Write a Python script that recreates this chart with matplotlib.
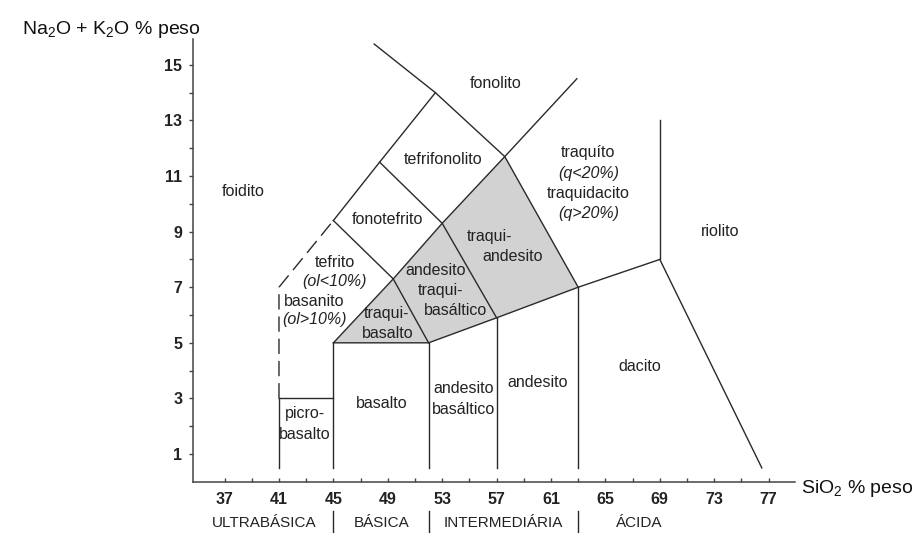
import matplotlib
matplotlib.use('Agg')
import matplotlib.pyplot as plt

plt.rcParams['font.family'] = ['Liberation Sans', 'DejaVu Sans']

# ---------------- data ----------------
x_major_ticks = [37, 41, 45, 49, 53, 57, 61, 65, 69, 73, 77]
x_minor_ticks = [39, 43, 47, 51, 55, 59, 63, 67, 71, 75]
y_major_ticks = [1, 3, 5, 7, 9, 11, 13, 15]
y_minor_ticks = [2, 4, 6, 8, 10, 12, 14]

# field boundaries: SiO2 (x) and Na2O+K2O (y)
line_41_x = [41, 41]
line_41_y = [0.5, 3]
line_picro_x = [41, 45]
line_picro_y = [3, 3]
dashed_foid_x = [41, 41, 45]
dashed_foid_y = [3, 7, 9.4]
line_45_x = [45, 45]
line_45_y = [0.5, 5]
line_52_x = [52, 52]
line_52_y = [0.5, 5]
line_57_x = [57, 57]
line_57_y = [0.5, 5.9]
line_63_x = [63, 63]
line_63_y = [0.5, 7]
line_sub_x = [45, 52, 57, 63, 69]
line_sub_y = [5, 5, 5.9, 7, 8]
line_69_x = [69, 69]
line_69_y = [8, 13]
line_dacite_x = [69, 76.5]
line_dacite_y = [8, 0.5]
line_d1_x = [45, 49.4, 53, 57.6, 62.9]
line_d1_y = [5, 7.3, 9.3, 11.7, 14.5]
line_d2_x = [45, 49.4, 52]
line_d2_y = [9.4, 7.3, 5]
line_d3_x = [48.4, 53, 57]
line_d3_y = [11.5, 9.3, 5.9]
line_d4_x = [48, 52.5, 57.6, 63]
line_d4_y = [15.75, 14, 11.7, 7]
line_foid_x = [45, 48.4, 52.5]
line_foid_y = [9.4, 11.5, 14]

shaded_x = [45, 52, 57, 63, 57.6, 53, 49.4]
shaded_y = [5, 5, 5.9, 7, 11.7, 9.3, 7.3]

field_texts = ['fonolito', 'tefrifonolito', 'traquíto', '(q<20%)', 'traquidacito', '(q>20%)',
               'foidito', 'fonotefrito', 'traqui-', 'andesito', 'riolito',
               'tefrito', '(ol<10%)', 'basanito', '(ol>10%)',
               'andesito', 'traqui-', 'basáltico', 'traqui-', 'basalto',
               'dacito', 'picro-', 'basalto', 'basalto', 'andesito', 'basáltico', 'andesito']
field_x = [56.9, 53.05, 63.75, 63.75, 63.75, 63.75,
           38.37, 48.95, 56.5, 58.2, 73.4,
           45.1, 45.1, 43.6, 43.6,
           52.5, 52.85, 53.95, 48.9, 49.0,
           67.55, 42.9, 42.9, 48.55, 54.55, 54.55, 60.05]
field_y = [14.33, 11.58, 11.84, 11.1, 10.38, 9.66,
           10.43, 9.44, 8.82, 8.10, 9.02,
           7.9, 7.2, 6.5, 5.85,
           7.6, 6.9, 6.15, 6.06, 5.34,
           4.14, 2.44, 1.71, 2.80, 3.36, 2.61, 3.58]
field_italic = [False, False, False, True, False, True,
                False, False, False, False, False,
                False, True, False, True,
                False, False, False, False, False,
                False, False, False, False, False, False, False]

class_names = ['ULTRABÁSICA', 'BÁSICA', 'INTERMEDIÁRIA', 'ÁCIDA']
class_x = [39.88, 48.55, 57.49, 67.45]
class_bounds = [45, 52, 63]

# ---------------- figure ----------------
W, H = 917, 533
fig = plt.figure(figsize=(W / 100, H / 100), dpi=100)
fig.patch.set_facecolor('white')
ax = fig.add_axes([193.3 / W, 1 - 481.8 / H, (795 - 193.3) / W, (481.8 - 39.3) / H])
ax.set_xlim(34.7, 78.94)
ax.set_ylim(0, 15.92)

lc = '#2a2a2a'
lw = 1.0
ax.fill(shaded_x, shaded_y, color='#d2d2d2', lw=0, zorder=1)

solid_lines = [(line_41_x, line_41_y), (line_picro_x, line_picro_y), (line_45_x, line_45_y),
               (line_52_x, line_52_y), (line_57_x, line_57_y), (line_63_x, line_63_y),
               (line_sub_x, line_sub_y), (line_69_x, line_69_y), (line_dacite_x, line_dacite_y),
               (line_d1_x, line_d1_y), (line_d2_x, line_d2_y), (line_d3_x, line_d3_y),
               (line_d4_x, line_d4_y), (line_foid_x, line_foid_y)]
for xs, ys in solid_lines:
    ax.plot(xs, ys, color=lc, lw=lw, zorder=2, solid_joinstyle='miter')
ax.plot(dashed_foid_x, dashed_foid_y, color=lc, lw=lw, dashes=(11, 5), zorder=2)

fs = 11.5
for t, x, y, it in zip(field_texts, field_x, field_y, field_italic):
    ax.text(x, y, t, ha='center', va='center', fontsize=fs, color='#222222',
            style='italic' if it else 'normal', zorder=3)

# spines and ticks
for s in ['top', 'right']:
    ax.spines[s].set_visible(False)
for s in ['left', 'bottom']:
    ax.spines[s].set_color('#444444')
    ax.spines[s].set_linewidth(1.1)
ax.set_xticks(x_major_ticks)
ax.set_xticks(x_minor_ticks, minor=True)
ax.set_yticks(y_major_ticks)
ax.set_yticks(y_minor_ticks, minor=True)
ax.tick_params(axis='x', which='both', direction='in', length=3, width=1, color='#444444')
ax.tick_params(axis='x', which='major', pad=7, labelsize=11.5, labelcolor='#222222')
ax.tick_params(axis='y', which='both', direction='out', length=3, width=1, color='#444444')
ax.tick_params(axis='y', which='major', pad=5, labelsize=11.5, labelcolor='#222222')
for lab in ax.get_xticklabels() + ax.get_yticklabels():
    lab.set_fontweight('bold')

# rock classes below axis
for name, x in zip(class_names, class_x):
    ax.text(x, -1.49, name, ha='center', va='center', fontsize=11, color='#222222', clip_on=False)
for b in class_bounds:
    ax.plot([b, b], [-1.05, -1.9], color=lc, lw=1.0, clip_on=False)

# axis titles
fig.text(22 / W, 1 - 34.3 / H, r'Na$\mathregular{_2}$O + K$\mathregular{_2}$O % peso',
         ha='left', va='baseline', fontsize=14, color='#111111')
fig.text(801 / W, 1 - 493.3 / H, r'SiO$\mathregular{_2}$ % peso',
         ha='left', va='baseline', fontsize=14, color='#111111')

fig.savefig('out.png', dpi=100, facecolor='white')
